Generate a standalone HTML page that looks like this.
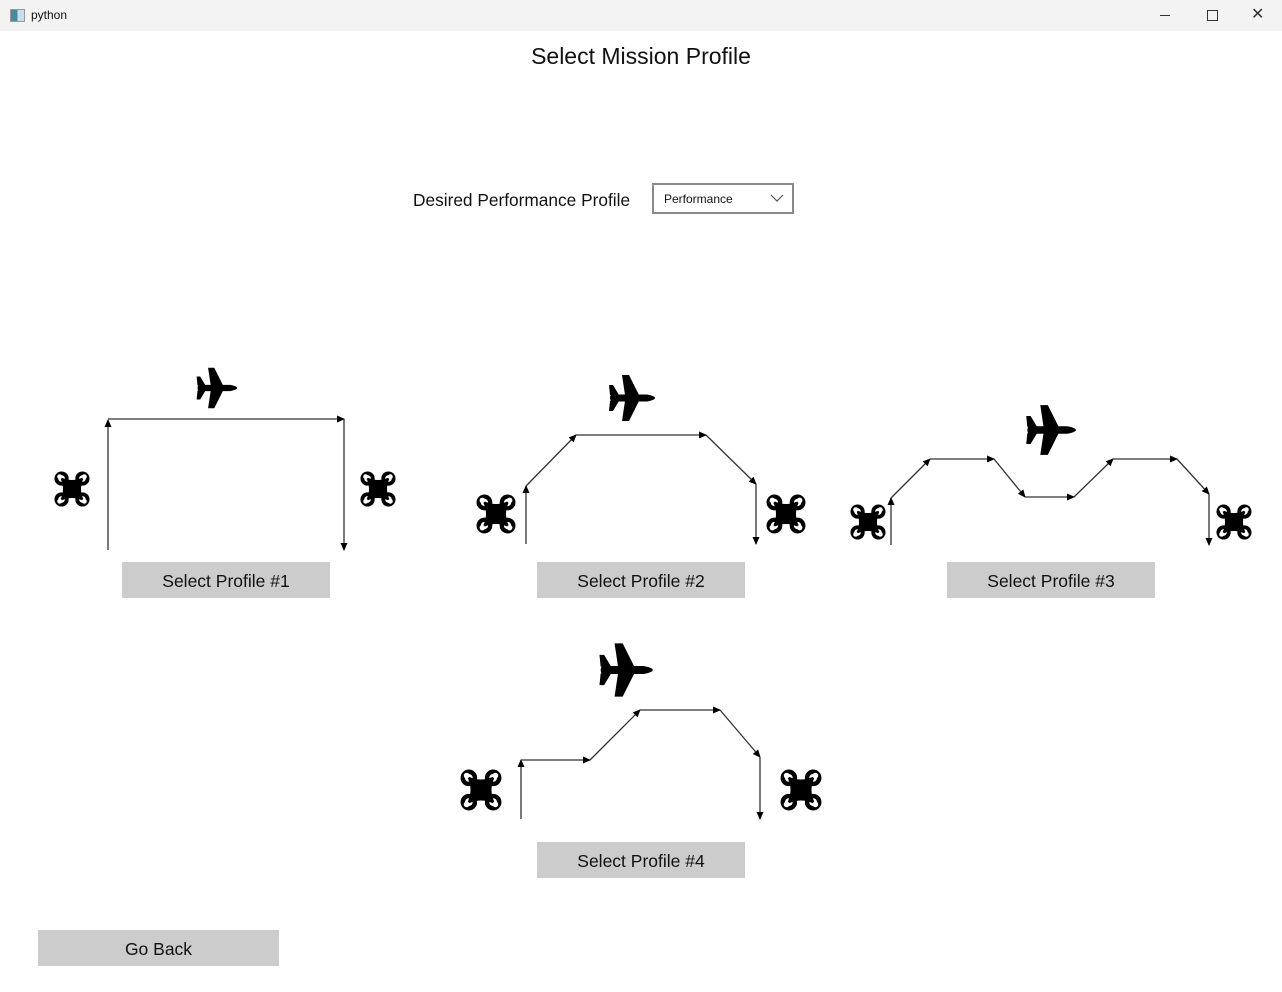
<!DOCTYPE html>
<html><head><style>
body{margin:0;width:1282px;height:992px;background:#fff;font-family:"Liberation Sans",sans-serif;position:relative;overflow:hidden}
.tb{position:absolute;left:0;top:0;width:1282px;height:31px;background:#f3f3f3}
.btn{position:absolute;background:#cccccc;font-size:17.5px;color:#111;text-align:center;line-height:38px;height:36px}
</style></head><body>
<div class="tb">
<div style="position:absolute;left:10px;top:9px;width:13px;height:11px;border:1px solid #999;background:linear-gradient(90deg,#4a8a9a 50%,#cde 50%)"></div>
<div style="position:absolute;left:31px;top:8px;font-size:12px;color:#111">python</div>
<div style="position:absolute;left:1160px;top:15px;width:10px;height:1px;background:#333"></div>
<div style="position:absolute;left:1207px;top:10px;width:9px;height:9px;border:1px solid #333"></div>
<div style="position:absolute;left:1251px;top:4px;font-size:16px;color:#333">✕</div>
</div>
<div style="position:absolute;left:0;right:0;top:43px;text-align:center;font-size:23px;color:#111">Select Mission Profile</div>
<div style="position:absolute;left:413px;top:190px;font-size:17.3px;color:#111">Desired Performance Profile</div>
<div style="position:absolute;left:652px;top:183px;border:2px solid #8a8a8a;box-sizing:content-box;width:138px;height:27px">
<span style="position:absolute;left:10px;top:7px;font-size:12px;color:#111">Performance</span>
<svg style="position:absolute;left:116px;top:9px" width="14" height="9"><path d="M1,1 L7,7 L13,1" fill="none" stroke="#555" stroke-width="1.2"/></svg>
</div>
<svg width="1282" height="992" style="position:absolute;left:0;top:0">
<defs>
<marker id="a" markerWidth="8" markerHeight="8" refX="7" refY="4" orient="auto" markerUnits="userSpaceOnUse"><path d="M0,0.5 L8,4 L0,7.5Z" fill="#000"/></marker>
<symbol id="d" viewBox="-19 -19 38 38" overflow="visible">
<g fill="none" stroke="#000" stroke-width="4"><circle cx="-11" cy="-11" r="5.5"/><circle cx="11" cy="-11" r="5.5"/><circle cx="-11" cy="11" r="5.5"/><circle cx="11" cy="11" r="5.5"/></g>
<path d="M-11,-11 Q0,-6 11,-11 Q6,0 11,11 Q0,6 -11,11 Q-6,0 -11,-11Z" fill="#000" stroke="#000" stroke-width="2"/>
<g fill="#fff"><circle cx="-13" cy="-13" r="2.6"/><circle cx="13" cy="-13" r="2.6"/><circle cx="-13" cy="13" r="2.6"/><circle cx="13" cy="13" r="2.6"/></g>
</symbol>
<symbol id="p" viewBox="-25 -25 50 50" overflow="visible">
<path d="M-20,-3.5 L16,-3.5 Q24,-2 24,0 Q24,2 16,3.5 L-20,3.5 Q-22,0 -20,-3.5Z" fill="#000"/>
<path d="M8,-3 L-2,-23 L-9,-23 L-6,-3Z M8,3 L-2,23 L-9,23 L-6,3Z" fill="#000"/>
<path d="M-12,-3 L-18,-13 L-22,-13 L-21,-3Z M-12,3 L-18,13 L-22,13 L-21,3Z" fill="#000"/>
</symbol>
</defs>
<g fill="none" stroke="#333" stroke-width="1.3" marker-end="url(#a)">
<path d="M108,550 L108,420"/><path d="M108,419 L344,419"/><path d="M344,419 L344,550"/>
<path d="M526,544 L526,486"/><path d="M526,486 L576,435"/><path d="M576,435 L706,435"/><path d="M706,435 L756,484"/><path d="M756,484 L756,544"/>
<path d="M891,545 L891,498"/><path d="M891,498 L930,459"/><path d="M930,459 L994,459"/><path d="M994,459 L1025,497"/><path d="M1025,497 L1074,497"/><path d="M1074,497 L1113,459"/><path d="M1113,459 L1177,459"/><path d="M1177,459 L1209,494"/><path d="M1209,494 L1209,545"/>
<path d="M521,819 L521,760"/><path d="M521,760 L590,760"/><path d="M590,760 L640,710"/><path d="M640,710 L720,710"/><path d="M720,710 L760,757"/><path d="M760,757 L760,819"/>
</g>
<use href="#d" x="54" y="471" width="36" height="36"/><use href="#d" x="360" y="471" width="36" height="36"/>
<use href="#d" x="476" y="494" width="40" height="40"/><use href="#d" x="766" y="494" width="40" height="40"/>
<use href="#d" x="850" y="504" width="36" height="36"/><use href="#d" x="1216" y="504" width="36" height="36"/>
<use href="#d" x="460" y="769" width="42" height="42"/><use href="#d" x="780" y="769" width="42" height="42"/>
<use href="#p" x="194" y="366" width="44" height="44"/>
<use href="#p" x="606" y="373" width="50" height="50"/>
<use href="#p" x="1023" y="403" width="54" height="54"/>
<use href="#p" x="596" y="641" width="58" height="58"/>
</svg>
<div class="btn" style="left:122px;top:562px;width:208px">Select Profile #1</div>
<div class="btn" style="left:537px;top:562px;width:208px">Select Profile #2</div>
<div class="btn" style="left:947px;top:562px;width:208px">Select Profile #3</div>
<div class="btn" style="left:537px;top:842px;width:208px">Select Profile #4</div>
<div class="btn" style="left:38px;top:930px;width:241px">Go Back</div>
</body></html>
